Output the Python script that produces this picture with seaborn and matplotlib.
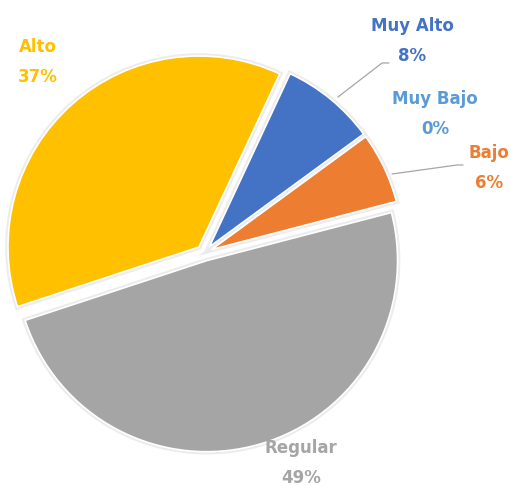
import matplotlib
matplotlib.use("Agg")
import matplotlib.pyplot as plt
import matplotlib.patheffects as pe
import seaborn as sns

# ---- data ----
categories = ["Muy Alto", "Muy Bajo", "Bajo", "Regular", "Alto"]
percent = [8, 0, 6, 49, 37]
slice_colors = ["#4472C4", "#5B9BD5", "#ED7D31", "#A5A5A5", "#FFC000"]

sns.set_theme(style="white")
plt.rcParams["font.family"] = ["DejaVu Sans"]
palette = sns.color_palette(slice_colors)

W, H = 511, 486
fig = plt.figure(figsize=(W / 100, H / 100), dpi=100)
ax = fig.add_axes([0, 0, 1, 1])

S = 191.0              # px per data unit
cx, cy = 204.3, 253.0  # pie centre in pixels (from top-left)

def px(x, y):
    return ((x - cx) / S, (cy - y) / S)

wedges, _ = ax.pie(
    percent,
    colors=palette,
    startangle=90 - 25,
    counterclock=False,
    explode=[0.042] * len(percent),
    radius=1.0,
    wedgeprops=dict(edgecolor="white", linewidth=1.2),
)
for w, v in zip(wedges, percent):
    if v == 0:
        w.set_visible(False)
        continue
    w.set_path_effects([pe.Stroke(linewidth=4, foreground="#ececec"), pe.Normal()])

ax.set_xlim(-cx / S, (W - cx) / S)
ax.set_ylim(-(H - cy) / S, cy / S)
ax.set_aspect("equal", adjustable="datalim")
ax.axis("off")

label_pos = {
    "Muy Alto": (412, 41),
    "Muy Bajo": (435, 114),
    "Bajo": (489, 168),
    "Regular": (301, 463),
    "Alto": (38, 62),
}
for cat, val, col in zip(categories, percent, palette):
    x, y = px(*label_pos[cat])
    ax.text(x, y, f"{cat}\n{val}%", color=col, ha="center", va="center",
            fontsize=12, fontweight="bold", linespacing=1.9)

# leader lines
for pts in ([(338, 97), (382, 63), (389, 63)], [(392, 174), (457, 165), (463, 165)]):
    xs, ys = zip(*[px(*p) for p in pts])
    ax.plot(xs, ys, color="#a6a6a6", lw=0.9)

fig.savefig("out.png", dpi=100)
